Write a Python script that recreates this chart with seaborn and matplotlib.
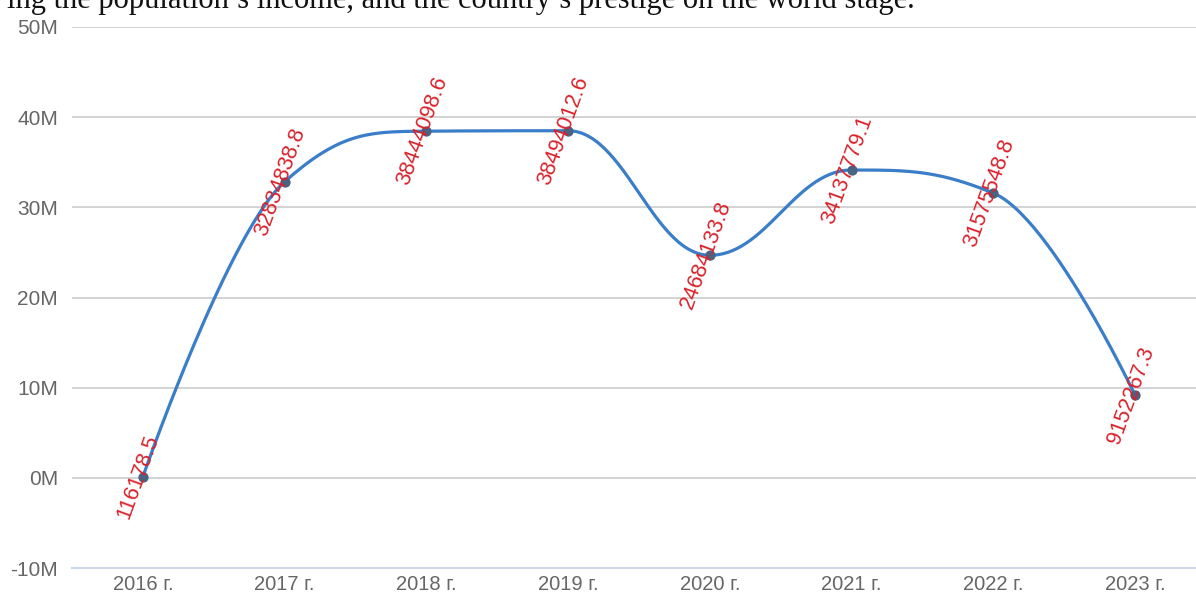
import numpy as np
import pandas as pd
import matplotlib
matplotlib.use("Agg")
import matplotlib.pyplot as plt
import seaborn as sns

# ---- data ----
years = ["2016 г.", "2017 г.", "2018 г.", "2019 г.", "2020 г.", "2021 г.", "2022 г.", "2023 г."]
values = [116178.5, 32834838.8, 38444098.6, 38494012.6, 24684133.8, 34137779.1, 31575548.8, 9152267.3]
value_labels = ["116178.5", "32834838.8", "38444098.6", "38494012.6",
                "24684133.8", "34137779.1", "31575548.8", "9152267.3"]
y_ticks = [-10e6, 0, 10e6, 20e6, 30e6, 40e6, 50e6]
y_tick_labels = ["-10M", "0M", "10M", "20M", "30M", "40M", "50M"]
header_text = "ing the population\u2019s income, and the country\u2019s prestige on the world stage."

LINE = "#3a7dc9"
MARK = "#4a6382"
RED = "#d8222b"
GRID = "#cccccc"
AXIS = "#ccd6eb"
TICK = "#666666"

sns.set_theme(style="white")
plt.rcParams["font.family"] = ["Liberation Sans", "DejaVu Sans"]

df = pd.DataFrame({"x": np.arange(len(years)), "year": years, "value": values})


def spline_curve(xs, ys, smoothing=1.5, n=60):
    """Highcharts-style spline: cubic beziers with clamped control points."""
    xs = list(map(float, xs)); ys = list(map(float, ys))
    N = len(xs)
    lc = [(xs[i], ys[i]) for i in range(N)]
    rc = [(xs[i], ys[i]) for i in range(N)]
    denom = smoothing + 1
    for i in range(1, N - 1):
        px, py = xs[i], ys[i]
        lx, ly = xs[i - 1], ys[i - 1]
        nx, ny = xs[i + 1], ys[i + 1]
        lcx = (smoothing * px + lx) / denom
        lcy = (smoothing * py + ly) / denom
        rcx = (smoothing * px + nx) / denom
        rcy = (smoothing * py + ny) / denom
        corr = 0.0
        if rcx != lcx:
            corr = (rcy - lcy) * (rcx - px) / (rcx - lcx) + py - rcy
        lcy += corr; rcy += corr
        if lcy > ly and lcy > py:
            lcy = max(ly, py); rcy = 2 * py - lcy
        elif lcy < ly and lcy < py:
            lcy = min(ly, py); rcy = 2 * py - lcy
        if rcy > ny and rcy > py:
            rcy = max(ny, py); lcy = 2 * py - rcy
        elif rcy < ny and rcy < py:
            rcy = min(ny, py); lcy = 2 * py - rcy
        lc[i] = (lcx, lcy); rc[i] = (rcx, rcy)
    outx, outy = [xs[0]], [ys[0]]
    t = np.linspace(0, 1, n)[1:]
    for i in range(1, N):
        p0 = np.array([xs[i - 1], ys[i - 1]])
        p1 = np.array(rc[i - 1]); p2 = np.array(lc[i]); p3 = np.array([xs[i], ys[i]])
        pts = ((1 - t) ** 3)[:, None] * p0 + (3 * (1 - t) ** 2 * t)[:, None] * p1 \
            + (3 * (1 - t) * t ** 2)[:, None] * p2 + (t ** 3)[:, None] * p3
        outx.extend(pts[:, 0]); outy.extend(pts[:, 1])
    return pd.DataFrame({"x": outx, "y": outy})


curve = spline_curve(df["x"], df["value"])

W, H = 1196, 595
fig = plt.figure(figsize=(W / 100, H / 100), dpi=100)
ax = fig.add_axes([72 / W, 1 - 568 / H, (1206 - 72) / W, (568 - 27) / H])

sns.lineplot(data=curve, x="x", y="y", sort=False, estimator=None, ax=ax,
             color=LINE, linewidth=2.3, zorder=3)
sns.scatterplot(data=df, x="x", y="value", ax=ax, color=MARK, s=55,
                edgecolor=MARK, linewidth=0, zorder=4)

for xi, v, lab in zip(df["x"], df["value"], value_labels):
    ax.text(xi - 0.03, v, lab, rotation=70, rotation_mode="anchor", ha="center",
            va="center", color=RED, fontsize=15.5, zorder=5)

ax.set_xlim(-0.5, len(years) - 0.5)
ax.set_ylim(-10e6, 50e6)
ax.set_yticks(y_ticks)
ax.set_yticklabels(y_tick_labels)
ax.set_xticks(df["x"])
ax.set_xticklabels(years)
ax.set_xticks(np.arange(-0.5, len(years), 1.0), minor=True)
ax.set_xlabel("")
ax.set_ylabel("")

ax.grid(axis="y", color=GRID, linewidth=1.2)
ax.grid(axis="x", visible=False)
ax.set_axisbelow(True)
for s in ["left", "right", "top"]:
    ax.spines[s].set_visible(False)
ax.spines["bottom"].set_color(AXIS)
ax.spines["bottom"].set_linewidth(1.5)
ax.spines["bottom"].set_zorder(2.5)

ax.tick_params(axis="y", length=0, pad=10, labelsize=15, labelcolor=TICK)
ax.tick_params(axis="x", which="major", length=0, pad=5, labelsize=14.5, labelcolor=TICK)
ax.tick_params(axis="x", which="minor", length=7, width=1.5, color=AXIS, direction="out")

fig.text(915 / W, 1 - 8 / H, header_text, ha="right", va="baseline",
         fontsize=22, color="#111111", family=["Liberation Serif", "DejaVu Serif"])

fig.savefig("out.png", dpi=100)
